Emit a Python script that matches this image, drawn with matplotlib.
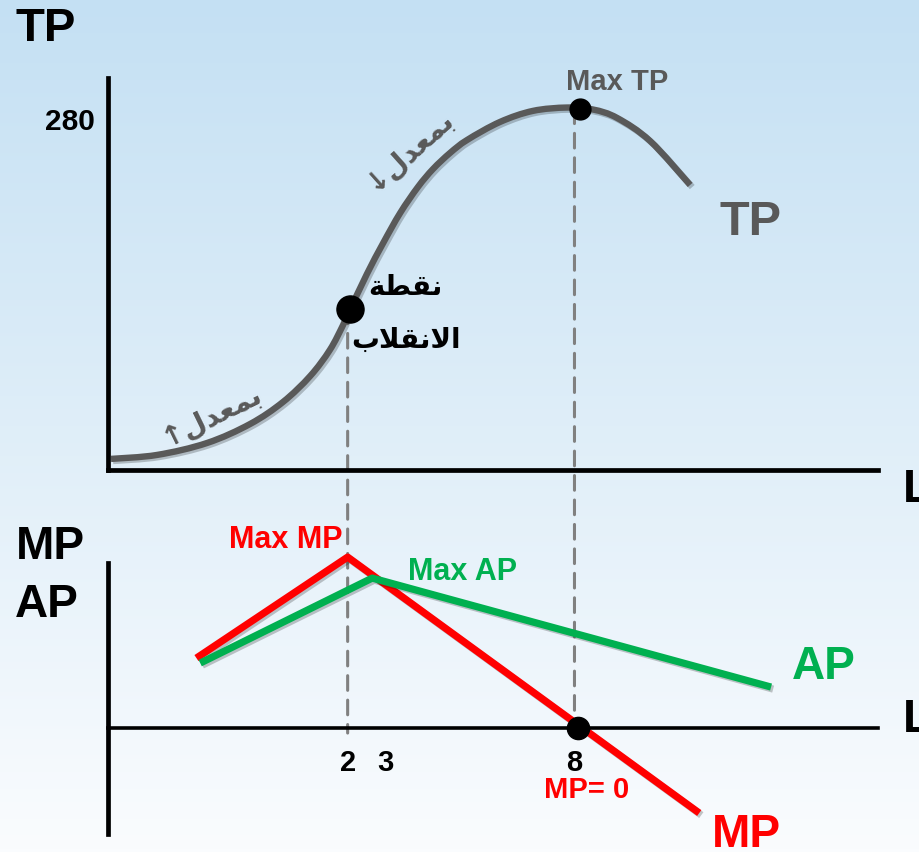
import numpy as np
import matplotlib
matplotlib.use("Agg")
import matplotlib.pyplot as plt
import matplotlib.patheffects as pe
from matplotlib.patches import ConnectionPatch, PathPatch
from matplotlib.path import Path

plt.rcParams['font.family'] = ['Liberation Sans', 'DejaVu Sans']
plt.rcParams['font.weight'] = 'bold'

# TP curve (L, TP)
tp_L = [-4.26, -3.04, -1.72, -0.58, 0.29, 1.01, 1.53, 1.88, 2.06, 2.51, 2.94, 3.39,
        3.86, 4.26, 4.71, 5.16, 6.03, 6.90, 7.80, 8.49, 9.13, 10.0, 11.06]
tp_val = [8.9, 12.1, 21.7, 37.0, 54.7, 75.6, 96.6, 116.7, 128.7, 157.7, 182.6, 206.8,
          227.7, 242.2, 255.1, 265.5, 280.0, 288.9, 291.6, 290.0, 283.2, 264.7, 229.3]

# MP / AP (L, value)
mp_L = [-2.0, 2.0, 11.3]
mp_val = [35, 85.5, -42.5]
ap_L = [-1.9, 2.65, 13.2]
ap_val = [32.5, 75, 20.5]

# special points
inflect_L, inflect_tp = 2.06, 129.5
maxtp_L, maxtp_val = 8.15, 290.5
mp0_L = 8.1
tick_L = [2, 3, 8]
tick_labels = ['2', '3', '8']

# Arabic text, already shaped in visual order (presentation forms)
txt_noqta = '\uFE94\uFEC4\uFED8\uFEE7'                      # نقطة
txt_inqilab = '\uFE8F\uFEFC\uFED8\uFEE7\uFEFB\uFE8D'        # الانقلاب
txt_rate = '\uFEDD\uFEAA\uFECC\uFEE4\uFE91'                 # بمعدل

GREY = '#595959'
RED = '#ff0000'
GREEN = '#00b050'


def smooth_path(xs, ys):
    # catmull-rom through the read points, drawn as cubic beziers
    pts = np.column_stack([xs, ys])
    n = len(pts)
    verts = [pts[0]]
    codes = [Path.MOVETO]
    for i in range(n - 1):
        p0 = pts[max(i - 1, 0)]
        p1 = pts[i]
        p2 = pts[i + 1]
        p3 = pts[min(i + 2, n - 1)]
        verts += [p1 + (p2 - p0) / 6, p2 - (p3 - p1) / 6, p2]
        codes += [Path.CURVE4] * 3
    return Path(verts, codes)


fig = plt.figure(figsize=(9.2, 8.52), dpi=100)

# background gradient
bg = fig.add_axes([0, 0, 1, 1], zorder=-2)
top_c = np.array([196, 224, 243]) / 255
bot_c = np.array([250, 252, 254]) / 255
t = np.linspace(0, 1, 256)[:, None]
grad = top_c[None, :] * (1 - t) + bot_c[None, :] * t
bg.imshow(grad[:, None, :], aspect='auto', extent=[0, 1, 0, 1])
bg.axis('off')

shadow = [pe.SimpleLineShadow(offset=(1.5, -1.5), alpha=0.22, shadow_color='k'), pe.Normal()]

# ---- top panel: TP ----
ax1 = fig.add_axes([0.1174, 0.4484, 0.837, 0.4601])
ax1.set_facecolor('none')
ax1.set_xlim(-4.339, 16.03)
ax1.set_ylim(0, 315.4)
for s in ['top', 'right']:
    ax1.spines[s].set_visible(False)
for s in ['left', 'bottom']:
    ax1.spines[s].set_linewidth(3.4)
    ax1.spines[s].set_color('black')
ax1.set_xticks([])
ax1.set_yticks([])

tp_patch = PathPatch(smooth_path(tp_L, tp_val), fill=False, edgecolor=GREY, lw=4.6,
                     capstyle='butt', path_effects=shadow, clip_on=False)
ax1.add_patch(tp_patch)
ax1.plot(inflect_L, inflect_tp, 'o', color='black', ms=19.5, clip_on=False, zorder=4)
ax1.plot(maxtp_L, maxtp_val, 'o', color='black', ms=15, clip_on=False, zorder=4)

ax1.text(-4.68, 280, '280', ha='right', va='center', fontsize=21.5, color='black')
ax1.text(9.13, 312, 'Max TP', ha='center', va='center', fontsize=21, color=GREY)
ax1.text(12.65, 199.5, 'TP', ha='center', va='center', fontsize=35, color=GREY)
ax1.text(16.69, -16, 'L', ha='left', va='center', fontsize=34, clip_on=False)
ax1.text(-6.0, 354.4, 'TP', ha='center', va='center', fontsize=34, clip_on=False)
ax1.text(3.54, 147, txt_noqta, ha='center', va='center', fontsize=20,
         family=['DejaVu Sans'], color='black')
ax1.text(3.54, 104.6, txt_inqilab, ha='center', va='center', fontsize=20,
         family=['DejaVu Sans'], color='black')
ax1.text(-1.59, 44.3, '\u2191' + txt_rate, ha='center', va='center', fontsize=20,
         rotation=26, family=['DejaVu Sans'], color=GREY)
ax1.text(3.62, 257.5, '\u2193' + txt_rate, ha='center', va='center', fontsize=20,
         rotation=42, family=['DejaVu Sans'], color=GREY)

# ---- bottom panel: MP / AP ----
ax2 = fig.add_axes([0.1174, 0.0211, 0.837, 0.318])
ax2.set_facecolor('none')
ax2.set_xlim(-4.339, 16.03)
ax2.set_ylim(-53, 82.5)
for s in ['top', 'right']:
    ax2.spines[s].set_visible(False)
ax2.spines['left'].set_linewidth(3.4)
ax2.spines['bottom'].set_linewidth(2.6)
ax2.spines['bottom'].set_position(('data', 0))
ax2.set_yticks([])
ax2.set_xticks(tick_L, tick_labels)
ax2.tick_params(axis='x', length=0, pad=15, labelsize=21)

ax2.plot(mp_L, mp_val, color=RED, lw=5.2, solid_capstyle='butt',
         path_effects=shadow, clip_on=False)
ax2.plot(ap_L, ap_val, color=GREEN, lw=5.2, solid_capstyle='butt',
         path_effects=shadow, clip_on=False)
ax2.plot(mp0_L, 0, 'o', color='black', ms=16, clip_on=False, zorder=5)

ax2.text(-5.87, 90.5, 'MP', ha='center', va='center', fontsize=33, clip_on=False)
ax2.text(-5.95, 61.5, 'AP', ha='center', va='center', fontsize=33, clip_on=False)
ax2.text(0.37, 94, 'Max MP', ha='center', va='center', fontsize=22, color=RED, clip_on=False)
ax2.text(5.05, 78, 'Max AP', ha='center', va='center', fontsize=22, color=GREEN)
ax2.text(14.6, 30.5, 'AP', ha='center', va='center', fontsize=33, color=GREEN)
ax2.text(12.54, -53.5, 'MP', ha='center', va='center', fontsize=33, color=RED, clip_on=False)
ax2.text(8.31, -31, 'MP= 0', ha='center', va='center', fontsize=21, color=RED)
ax2.text(16.69, 4, 'L', ha='left', va='center', fontsize=34, clip_on=False)

# dashed guide lines running from the top panel down past the L axis
for xa, ya in [(2, inflect_tp), (8, maxtp_val)]:
    con = ConnectionPatch(xyA=(xa, ya), coordsA=ax1.transData,
                          xyB=(xa, -2.5), coordsB=ax2.transData,
                          color='#808080', lw=2.2, linestyle=(0, (4.8, 3.2)),
                          zorder=-1)
    fig.add_artist(con)

fig.savefig('out.png', dpi=100)
